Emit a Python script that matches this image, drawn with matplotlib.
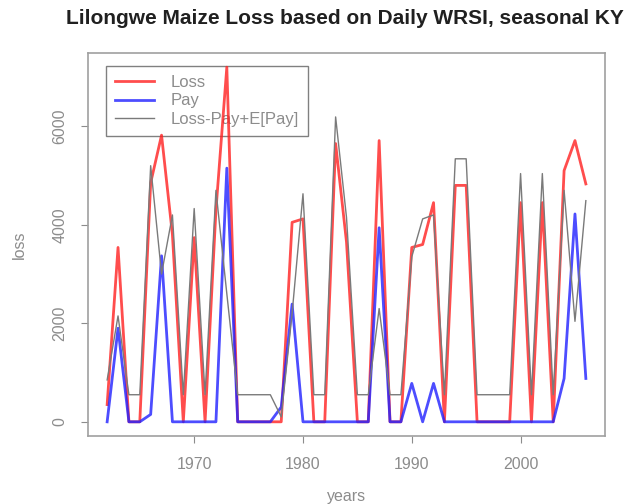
import matplotlib.pyplot as plt

years = list(range(1962, 2007))

loss = [350, 3540, 0, 0, 4850, 5820, 3800, 0, 3740, 0,
        4300, 7200, 0, 0, 0, 0, 0, 4050, 4120, 0,
        0, 5650, 3650, 0, 0, 5710, 0, 0, 3540, 3600,
        4450, 0, 4800, 4800, 0, 0, 0, 0, 4450, 0,
        4450, 0, 5100, 5710, 4830]

pay = [0, 1900, 0, 0, 150, 3370, 0, 0, 0, 0,
       0, 5150, 0, 0, 0, 0, 300, 2390, 0, 0,
       0, 0, 0, 0, 0, 3940, 0, 0, 780, 0,
       780, 0, 0, 0, 0, 0, 0, 0, 0, 0,
       0, 0, 880, 4220, 880]

net = [850, 2150, 550, 550, 5200, 3000, 4200, 550, 4330, 550,
       4700, 2600, 550, 550, 550, 550, 100, 2200, 4630, 550,
       550, 6190, 4150, 550, 550, 2300, 550, 550, 3350, 4120,
       4200, 550, 5340, 5340, 550, 550, 550, 550, 5040, 550,
       5040, 550, 4700, 2040, 4490]

plt.rcParams['font.family'] = ['Liberation Sans', 'DejaVu Sans']

fig = plt.figure(figsize=(6.26, 5.04), dpi=100)
ax = fig.add_axes([88 / 626, 1 - 436 / 504, 517 / 626, 383 / 504])

ax.plot(years, loss, color='#ff2020', lw=2, alpha=0.8, label='Loss', zorder=3)
ax.plot(years, pay, color='#2020ff', lw=2, alpha=0.8, label='Pay', zorder=3)
ax.plot(years, net, color='#7a7a7a', lw=1, label='Loss-Pay+E[Pay]', zorder=3)

ax.set_xlim(1960.24, 2007.76)
ax.set_ylim(-288, 7488)
ax.set_xticks([1970, 1980, 1990, 2000])
ax.set_yticks([0, 2000, 4000, 6000])
ax.set_yticklabels(['0', '2000', '4000', '6000'], rotation=90, va='center')

grey = '#8c8c8c'
for s in ax.spines.values():
    s.set_color('#a0a0a0')
    s.set_linewidth(1.2)
ax.tick_params(colors=grey, labelsize=11.5, length=5, pad=10)

ax.set_xlabel('years', color=grey, fontsize=11.5, labelpad=12)
ax.set_ylabel('loss', color=grey, fontsize=11.5, labelpad=18)
fig.text(345 / 626, 1 - 18 / 504, 'Lilongwe Maize Loss based on Daily WRSI, seasonal KY',
         ha='center', va='center', fontsize=15, fontweight='bold', color='#202020')

# transparent legend box, as in R, so the 1973 peak shows through it
leg = ax.legend(loc='upper left', bbox_to_anchor=(106 / 626, 1 - 66 / 504),
                bbox_transform=fig.transFigure, fancybox=False,
                facecolor='none', framealpha=None,
                edgecolor='#606060', fontsize=12, handlelength=2.3,
                borderpad=0.55, labelspacing=0.2, borderaxespad=0,
                handletextpad=1.0)
leg.set_zorder(2)
for t in leg.get_texts():
    t.set_color(grey)

fig.savefig('out.png', dpi=100)
